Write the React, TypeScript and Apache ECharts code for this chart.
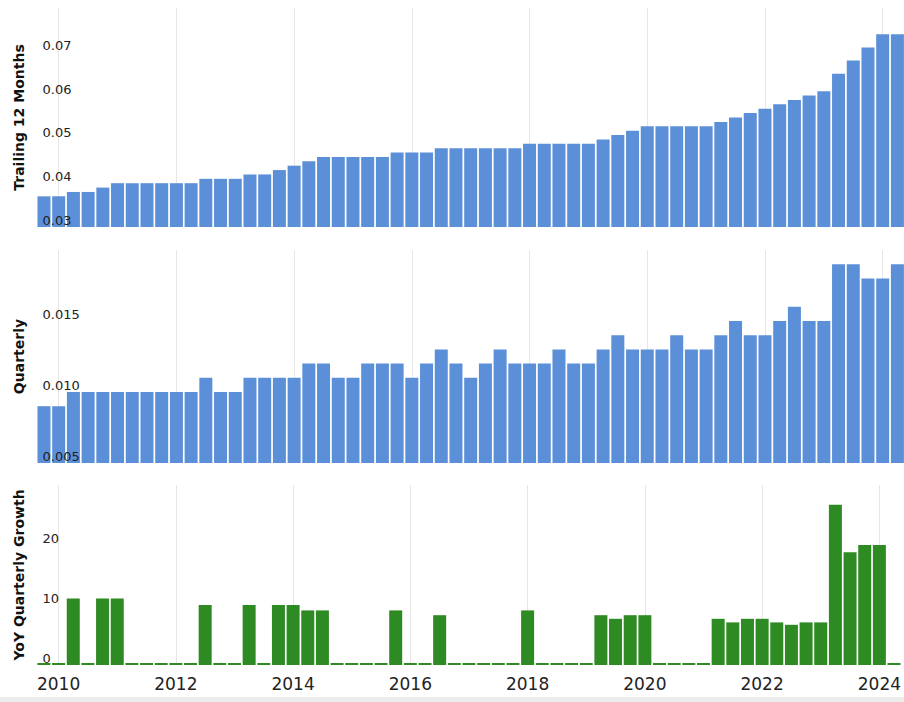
import React, { useEffect, useRef } from "react";
import * as echarts from "echarts";

// Quarter-end periods, 2009 Q3 .. 2024 Q1
const quarters: string[] = [
  "2009Q3", "2009Q4",
  "2010Q1", "2010Q2", "2010Q3", "2010Q4",
  "2011Q1", "2011Q2", "2011Q3", "2011Q4",
  "2012Q1", "2012Q2", "2012Q3", "2012Q4",
  "2013Q1", "2013Q2", "2013Q3", "2013Q4",
  "2014Q1", "2014Q2", "2014Q3", "2014Q4",
  "2015Q1", "2015Q2", "2015Q3", "2015Q4",
  "2016Q1", "2016Q2", "2016Q3", "2016Q4",
  "2017Q1", "2017Q2", "2017Q3", "2017Q4",
  "2018Q1", "2018Q2", "2018Q3", "2018Q4",
  "2019Q1", "2019Q2", "2019Q3", "2019Q4",
  "2020Q1", "2020Q2", "2020Q3", "2020Q4",
  "2021Q1", "2021Q2", "2021Q3", "2021Q4",
  "2022Q1", "2022Q2", "2022Q3", "2022Q4",
  "2023Q1", "2023Q2", "2023Q3", "2023Q4",
  "2024Q1",
];

const trailing12: number[] = [
  0.037, 0.037,
  0.038, 0.038, 0.039, 0.040,
  0.040, 0.040, 0.040, 0.040,
  0.040, 0.041, 0.041, 0.041,
  0.042, 0.042, 0.043, 0.044,
  0.045, 0.046, 0.046, 0.046,
  0.046, 0.046, 0.047, 0.047,
  0.047, 0.048, 0.048, 0.048,
  0.048, 0.048, 0.048, 0.049,
  0.049, 0.049, 0.049, 0.049,
  0.050, 0.051, 0.052, 0.053,
  0.053, 0.053, 0.053, 0.053,
  0.054, 0.055, 0.056, 0.057,
  0.058, 0.059, 0.060, 0.061,
  0.065, 0.068, 0.071, 0.074,
  0.074,
];

const quarterly: number[] = [
  0.009, 0.009,
  0.010, 0.010, 0.010, 0.010,
  0.010, 0.010, 0.010, 0.010,
  0.010, 0.011, 0.010, 0.010,
  0.011, 0.011, 0.011, 0.011,
  0.012, 0.012, 0.011, 0.011,
  0.012, 0.012, 0.012, 0.011,
  0.012, 0.013, 0.012, 0.011,
  0.012, 0.013, 0.012, 0.012,
  0.012, 0.013, 0.012, 0.012,
  0.013, 0.014, 0.013, 0.013,
  0.013, 0.014, 0.013, 0.013,
  0.014, 0.015, 0.014, 0.014,
  0.015, 0.016, 0.015, 0.015,
  0.019, 0.019, 0.018, 0.018,
  0.019,
];

const yoyGrowth: number[] = [
  0, 0,
  11.1, 0, 11.1, 11.1,
  0, 0, 0, 0,
  0, 10.0, 0, 0,
  10.0, 0, 10.0, 10.0,
  9.1, 9.1, 0, 0,
  0, 0, 9.1, 0,
  0, 8.3, 0, 0,
  0, 0, 0, 9.1,
  0, 0, 0, 0,
  8.3, 7.7, 8.3, 8.3,
  0, 0, 0, 0,
  7.7, 7.1, 7.7, 7.7,
  7.1, 6.7, 7.1, 7.1,
  26.7, 18.8, 20.0, 20.0,
  0,
];

const panelTitles = ["Trailing 12 Months", "Quarterly", "YoY Quarterly Growth"];

const toX = (q: string) => Number(q.slice(0, 4)) + Number(q.slice(5)) / 4;

export default function App() {
  const ref = useRef<HTMLDivElement>(null);

  useEffect(() => {
    if (!ref.current) return;
    const chart = echarts.init(ref.current, undefined, { renderer: "svg" });

    const FONT = "DejaVu Sans";
    const xMin = 2009.64;
    const xMax = 2024.345;
    const grids = [
      { left: 37.5, right: 1, top: 8, height: 219 },
      { left: 37.5, right: 1, top: 250, height: 213 },
      { left: 37.5, right: 1, top: 485, height: 180 },
    ];

    const xAxes = grids.map((_, i) => ({
      type: "value",
      gridIndex: i,
      min: xMin,
      max: xMax,
      splitNumber: 7,
      axisLine: { show: false },
      axisTick: { show: false },
      axisLabel: {
        show: i === 2,
        showMinLabel: false,
        showMaxLabel: false,
        formatter: (v: number) => String(Math.round(v)),
        fontFamily: FONT,
        fontSize: 17,
        color: "#222",
        margin: 10,
      },
      splitLine: {
        show: true,
        showMinLine: false,
        showMaxLine: false,
        lineStyle: { color: "#e6e6e6", width: 1 },
      },
    }));

    const yConf = [
      { min: 0.03, max: 0.08, interval: 0.01, digits: 2 },
      { min: 0.005, max: 0.02, interval: 0.005, digits: 3 },
      { min: 0, max: 30, interval: 10, digits: 0 },
    ];

    const yAxes = yConf.map((c, i) => ({
      type: "value",
      gridIndex: i,
      min: c.min,
      max: c.max,
      interval: c.interval,
      z: 10,
      name: panelTitles[i],
      nameLocation: "middle",
      nameRotate: 90,
      nameGap: 12,
      nameTextStyle: {
        fontFamily: FONT,
        fontWeight: "bold",
        fontSize: 14,
        color: "#111",
      },
      axisLine: { show: false },
      axisTick: { show: false },
      splitLine: { show: false },
      axisLabel: {
        inside: true,
        showMaxLabel: false,
        verticalAlign: "bottom",
        margin: 5,
        fontFamily: FONT,
        fontSize: 13,
        color: "#222",
        formatter: (v: number) => v.toFixed(c.digits),
      },
    }));

    const mk = (vals: number[]) => quarters.map((q, i) => [toX(q), vals[i]]);

    chart.setOption({
      animation: false,
      backgroundColor: "#ffffff",
      grid: grids,
      xAxis: xAxes,
      yAxis: yAxes,
      graphic: [
        {
          type: "rect",
          left: 0,
          top: 697,
          shape: { width: 904, height: 5 },
          style: { fill: "#ececec" },
          silent: true,
        },
      ],
      series: [
        {
          name: panelTitles[0],
          type: "bar",
          xAxisIndex: 0,
          yAxisIndex: 0,
          barWidth: 13,
          itemStyle: { color: "#5b8fd8" },
          data: mk(trailing12),
        },
        {
          name: panelTitles[1],
          type: "bar",
          xAxisIndex: 1,
          yAxisIndex: 1,
          barWidth: 13,
          itemStyle: { color: "#5b8fd8" },
          data: mk(quarterly),
        },
        {
          name: panelTitles[2],
          type: "bar",
          xAxisIndex: 2,
          yAxisIndex: 2,
          barWidth: 13,
          barMinHeight: 2,
          itemStyle: { color: "#2e8a22" },
          data: mk(yoyGrowth),
        },
      ],
    });

    return () => chart.dispose();
  }, []);

  return (
    <div
      ref={ref}
      style={{ position: "absolute", left: 0, top: 0, width: 904, height: 702 }}
    />
  );
}
